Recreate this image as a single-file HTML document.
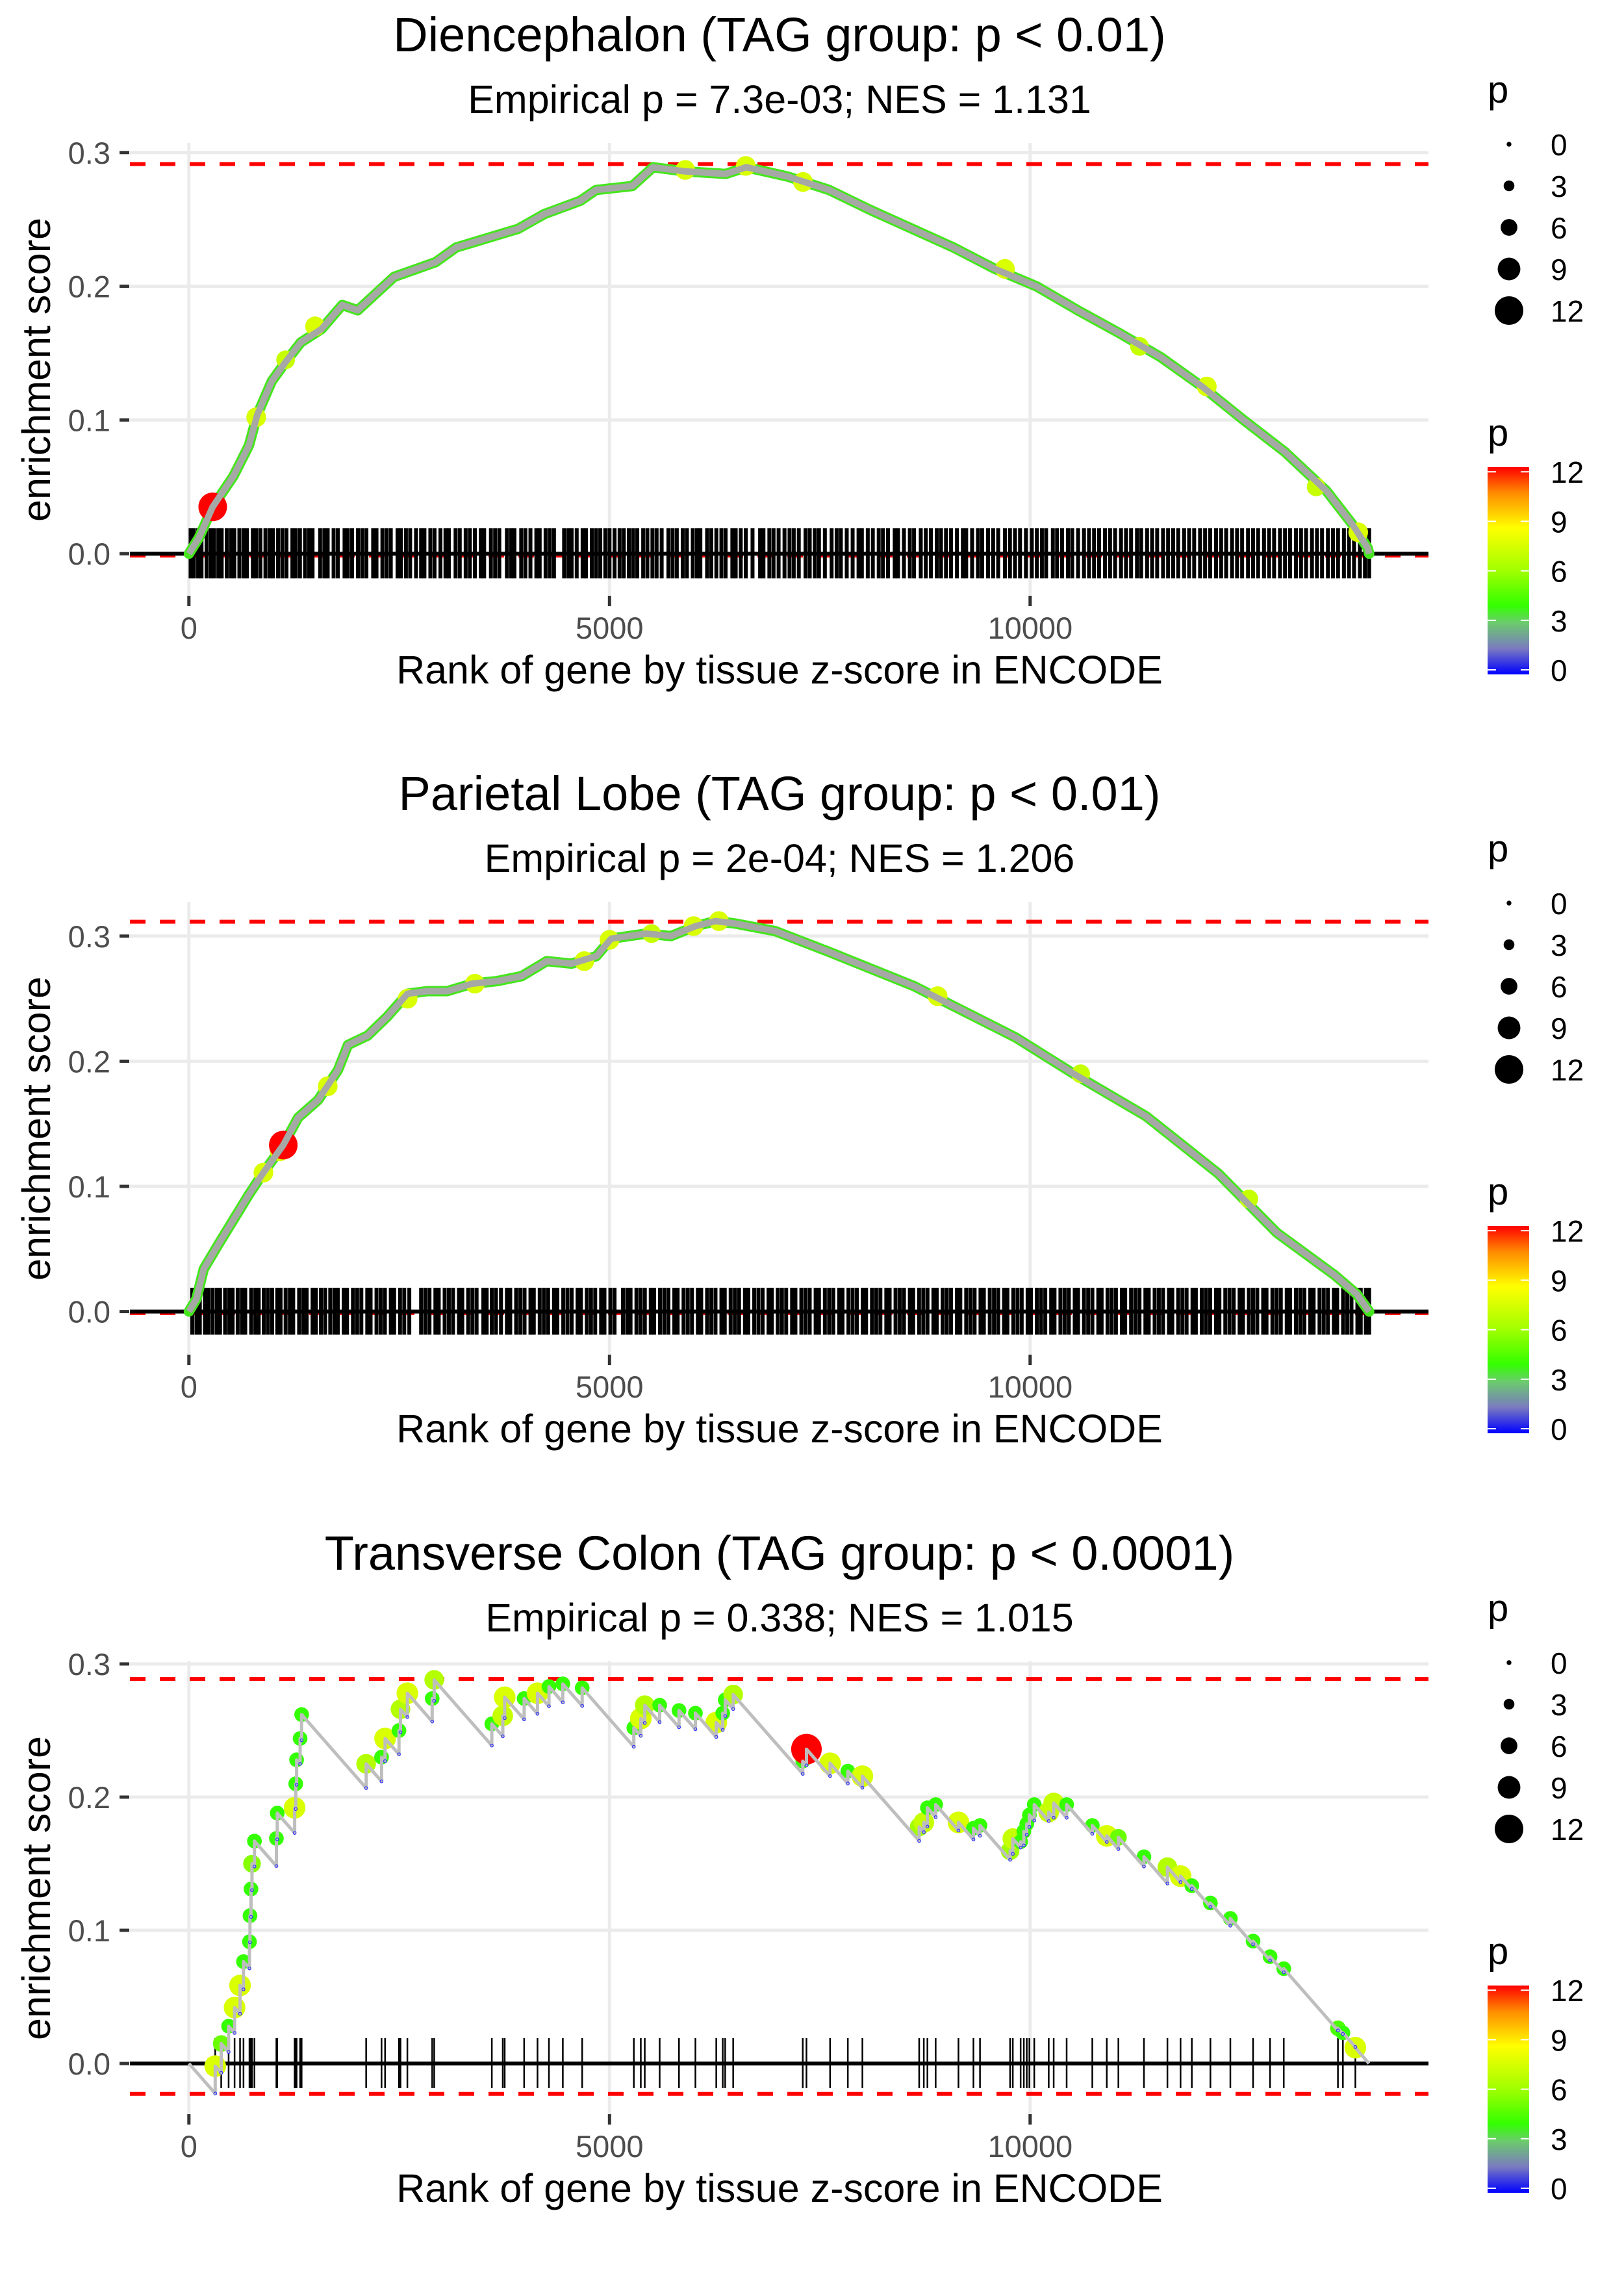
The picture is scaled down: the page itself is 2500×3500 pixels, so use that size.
<!DOCTYPE html>
<html><head><meta charset="utf-8"><style>
html,body{margin:0;padding:0;background:#fff;}
svg{display:block;font-family:"Liberation Sans",Arial,sans-serif;}
</style></head><body>
<svg id="fig" xmlns="http://www.w3.org/2000/svg" width="2500" height="3500" viewBox="0 0 2500 3500">
<defs>
<linearGradient id="pgrad" x1="0" y1="1" x2="0" y2="0">
<stop offset="0" stop-color="#0000ff"/><stop offset="0.125" stop-color="#7a7ac0"/><stop offset="0.25" stop-color="#6bcc6b"/><stop offset="0.333" stop-color="#33ff00"/><stop offset="0.5" stop-color="#a0ff00"/><stop offset="0.708" stop-color="#ffff00"/><stop offset="0.875" stop-color="#ff8c00"/><stop offset="1" stop-color="#ff0000"/>
</linearGradient>
</defs>
</svg>
<script>
// ---------- data ----------
const xTicks = [0, 5000, 10000];
const yTicks = [0, 0.1, 0.2, 0.3];
const yTickLabels = ["0.0", "0.1", "0.2", "0.3"];
const legendSizes = [0, 3, 6, 9, 12];
const titles = ["Diencephalon (TAG group: p < 0.01)", "Parietal Lobe (TAG group: p < 0.01)", "Transverse Colon (TAG group: p < 0.0001)"];
const subtitles = ["Empirical p = 7.3e-03; NES = 1.131", "Empirical p = 2e-04; NES = 1.206", "Empirical p = 0.338; NES = 1.015"];
const maxES = [0.2914, 0.3115, 0.2887];
const minES = [-0.0014, -0.0012, -0.0228];

const p1Ranks = [0,120,283,530,714,813,985,1145,1330,1576,1823,2007,2438,2931,3177,3547,3916,4224,4655,4840,5271,5517,5887,6379,6626,7118,7611,8103,8596,9089,9581,10074,10567,11059,11552,12044,12537,13030,13522,13830,14015,14030];
const p1ES = [0,0.012,0.035,0.058,0.081,0.104,0.129,0.143,0.158,0.168,0.186,0.182,0.207,0.218,0.229,0.236,0.243,0.254,0.264,0.272,0.275,0.289,0.286,0.284,0.289,0.282,0.272,0.257,0.243,0.229,0.213,0.200,0.182,0.165,0.147,0.125,0.100,0.076,0.047,0.022,0.004,0];
const p1DotRanks = [800,1150,1500,5900,6620,7300,9700,11300,12100,13400,13900,283];
const p1DotES = [0.102,0.145,0.170,0.287,0.290,0.278,0.213,0.155,0.125,0.050,0.016,0.035];
const p1DotP = [7.5,7,7.5,7.5,7.5,7.5,7.5,7,7.5,7,7.5,12];
const p1Rug = [20,60,110,150,210,260,300,350,390,450,500,540,600,650,690,760,800,850,910,960,1000,1060,1110,1160,1230,1270,1320,1380,1430,1470,1560,1610,1650,1720,1770,1850,1890,1940,2010,2060,2110,2190,2230,2300,2350,2400,2480,2520,2580,2630,2700,2760,2800,2870,2920,2990,3050,3090,3170,3220,3290,3340,3400,3470,3510,3590,3640,3690,3780,3830,3870,3950,4000,4060,4130,4170,4240,4290,4340,4460,4510,4550,4610,4680,4720,4790,4840,4890,4950,5000,5060,5120,5170,5230,5280,5330,5400,5450,5510,5560,5620,5700,5750,5800,5870,5920,5990,6040,6080,6160,6210,6270,6330,6380,6460,6500,6560,6620,6700,6790,6830,6900,6950,7010,7080,7140,7190,7250,7330,7380,7440,7490,7560,7640,7700,7750,7820,7890,7960,8000,8070,8130,8200,8250,8310,8390,8430,8500,8570,8620,8700,8760,8820,8890,8940,9000,9060,9130,9200,9240,9310,9380,9430,9500,9560,9620,9700,9760,9820,9880,9950,10020,10080,10140,10190,10270,10320,10380,10450,10500,10570,10640,10700,10760,10820,10890,10950,11010,11080,11140,11200,11270,11320,11390,11450,11510,11580,11640,11700,11760,11830,11890,11950,12020,12080,12140,12210,12270,12330,12400,12460,12520,12590,12650,12710,12780,12840,12900,12970,13030,13090,13160,13220,13280,13350,13410,13470,13540,13600,13660,13730,13790,13850,13920,13980,14030];

const p2Ranks = [0,89,177,354,532,709,886,1122,1299,1536,1772,1890,2126,2363,2599,2835,3071,3367,3662,3957,4253,4548,4843,5020,5434,5730,6025,6261,6497,6970,7586,8620,9828,10517,11379,12241,12931,13621,13880,14030];
const p2ES = [0,0.010,0.034,0.054,0.0735,0.093,0.111,0.133,0.155,0.169,0.193,0.213,0.2205,0.236,0.254,0.256,0.256,0.262,0.264,0.268,0.280,0.278,0.284,0.298,0.302,0.300,0.308,0.312,0.310,0.304,0.288,0.260,0.219,0.190,0.156,0.110,0.063,0.029,0.014,0];
const p2DotRanks = [886,1080,1650,2600,3400,4700,5000,5500,6000,6300,8900,10600,12600,1122];
const p2DotES = [0.111,0.128,0.180,0.250,0.262,0.280,0.297,0.302,0.308,0.312,0.252,0.190,0.090,0.133];
const p2DotP = [7.5,7.5,7.5,7.5,7.5,7.5,7.5,7,7.5,7.5,7.5,7,7,12];
const p2Rug = [40,90,130,190,230,280,330,370,430,480,520,580,630,670,740,790,830,890,940,990,1050,1090,1150,1200,1240,1310,1360,1400,1470,1510,1570,1620,1680,1730,1770,1840,1880,1950,2000,2050,2120,2160,2230,2280,2330,2400,2440,2510,2560,2620,2760,2810,2860,2930,2970,3040,3090,3140,3210,3250,3320,3370,3420,3500,3540,3600,3650,3710,3780,3820,3890,3940,3990,4060,4100,4170,4220,4270,4340,4380,4450,4500,4550,4620,4660,4730,4780,4830,4900,4940,5010,5060,5160,5210,5250,5320,5370,5420,5490,5530,5600,5650,5700,5770,5810,5880,5930,5980,6050,6090,6160,6210,6260,6330,6370,6440,6490,6540,6610,6650,6720,6770,6820,6890,6930,7000,7050,7100,7170,7210,7280,7330,7380,7450,7490,7560,7610,7660,7730,7770,7840,7890,7940,8010,8050,8120,8170,8220,8290,8330,8400,8450,8500,8570,8610,8680,8730,8780,8850,8890,8960,9010,9060,9130,9170,9240,9290,9340,9410,9450,9520,9570,9620,9690,9730,9800,9850,9900,9970,10010,10080,10130,10180,10250,10290,10360,10410,10460,10530,10570,10640,10690,10740,10810,10850,10920,10970,11020,11090,11130,11200,11250,11300,11370,11410,11480,11530,11580,11650,11690,11760,11810,11860,11930,11970,12040,12090,12140,12210,12250,12320,12370,12420,12490,12530,12600,12650,12700,12770,12810,12880,12930,12980,13050,13090,13160,13210,13260,13330,13370,13440,13490,13540,13610,13650,13720,13770,13820,13890,13930,13990,14030];

const p3HitRanks = [313,384,472,543,608,649,720,726,738,750,779,1040,1050,1257,1270,1280,1322,1340,2107,2290,2332,2497,2515,2597,2892,2916,3601,3731,3754,3985,4144,4280,4445,4675,5289,5372,5419,5596,5826,6021,6269,6346,6375,6470,7297,7341,7622,7833,8006,8681,8736,8779,8877,9148,9326,9404,9762,9794,9887,9925,9960,9991,10049,10221,10280,10434,10739,10911,11049,11353,11632,11788,11922,12143,12380,12650,12852,13015,13659,13718,13866];
const p3HitES = [-0.002,0.015,0.028,0.042,0.0586,0.0765,0.0914,0.111,0.131,0.150,0.167,0.169,0.188,0.192,0.210,0.228,0.244,0.262,0.225,0.230,0.244,0.250,0.266,0.278,0.274,0.288,0.255,0.261,0.275,0.274,0.278,0.283,0.285,0.282,0.252,0.259,0.269,0.269,0.265,0.263,0.256,0.263,0.273,0.277,0.227,0.236,0.2254,0.2195,0.2157,0.1776,0.181,0.192,0.1944,0.181,0.1766,0.1787,0.1597,0.1688,0.1665,0.1743,0.1799,0.1866,0.1944,0.1888,0.1956,0.1944,0.1787,0.1709,0.1698,0.1552,0.1474,0.1407,0.1335,0.1205,0.1089,0.0919,0.0802,0.0712,0.0264,0.023,0.0119];
const p3HitP = [7.5,5,4,7.5,7.5,4,4,4,4,5.5,4,4,4,7.5,4,4,4,4,6.5,4,7.5,4,6.5,7.5,4,6.5,4,7,7.5,4,7.5,4,4,4,4,7.5,6.5,4,4,4,7.5,4,4,6.5,4,12,7.5,4,7.5,6,7,4,4,7.5,4,4,6,7,4,4,4,4,4,7,7,4,4,7.5,5,4,6.5,7.5,4,4,4,4,4,4,4.5,4,7.5];
const p3EndRank = 14028;
const missPenalty = 0.000072;

// ---------- layout ----------
const NS = "http://www.w3.org/2000/svg";
const svg = document.getElementById("fig");
const X0 = 290.8, XS = 0.1295;
const PL = 200, PR = 2199;
const offsets = [0, 1168, 2337];
const yZero = [852.2, 2018.6, 3176];
const yScale = [2058, 1926, 2050];
function xPos(r){ return X0 + r*XS; }
function mk(tag, attrs, parent){ const e=document.createElementNS(NS,tag); for(const k in attrs) e.setAttribute(k,attrs[k]); (parent||svg).appendChild(e); return e; }
const stops=[[0,[0,0,255]],[1.5,[122,122,192]],[3,[107,204,107]],[4,[51,255,0]],[6,[160,255,0]],[8.5,[255,255,0]],[10.5,[255,140,0]],[12,[255,0,0]]];
function pColor(p){ for(let i=1;i<stops.length;i++){ if(p<=stops[i][0]){ const a=stops[i-1],b=stops[i]; const t=(p-a[0])/(b[0]-a[0]); const c=a[1].map((v,j)=>Math.round(v+(b[1][j]-v)*t)); return "rgb("+c.join(",")+")"; } } return "rgb(255,0,0)"; }
function pRadius(p){ return 3.7 + 1.53*p; }

function drawPanel(k){
  const o = offsets[k];
  const yPos = v => yZero[k] - v*yScale[k];
  const top = 220+o, bot = 917+o;
  const g = mk("g",{});
  
  
  const t = mk("text",{x:1200,y:79+o,"font-size":74,"text-anchor":"middle",fill:"#000"},g); t.textContent=titles[k];
  
  
  const st = mk("text",{x:1200,y:174+o,"font-size":61,"text-anchor":"middle",fill:"#000"},g); st.textContent=subtitles[k];
  
  
  yTicks.forEach((v,i)=>{
    const gl=mk("line",{x1:PL,x2:PR,y1:yPos(v),y2:yPos(v),stroke:"#ebebeb","stroke-width":5},g);
    
    
    const tk=mk("line",{x1:184,x2:199,y1:yPos(v),y2:yPos(v),stroke:"#333","stroke-width":5},g);
    
    
    const tl=mk("text",{x:170,y:yPos(v)+17,"font-size":47,"text-anchor":"end",fill:"#4d4d4d"},g); tl.textContent=yTickLabels[i];
    
    
  });
  xTicks.forEach(v=>{
    const gl=mk("line",{x1:xPos(v),x2:xPos(v),y1:top,y2:bot,stroke:"#ebebeb","stroke-width":5},g);
    
    
    const tk=mk("line",{x1:xPos(v),x2:xPos(v),y1:bot,y2:bot+16,stroke:"#333","stroke-width":5},g);
    
    
    const tl=mk("text",{x:xPos(v),y:983+o,"font-size":47,"text-anchor":"middle",fill:"#4d4d4d"},g); tl.textContent=String(v);
    
    
  });
  const xt=mk("text",{x:1200,y:1052+o,"font-size":61,"text-anchor":"middle",fill:"#000"},g); xt.textContent="Rank of gene by tissue z-score in ENCODE";
  
  
  const yt=mk("text",{x:0,y:0,"font-size":61,"text-anchor":"middle",fill:"#000",transform:"translate(77,"+(569+o)+") rotate(-90)"},g); yt.textContent="enrichment score";
  
  
  [maxES[k],minES[k]].forEach(v=>{
    const d=mk("line",{x1:PL,x2:PR,y1:yPos(v),y2:yPos(v),stroke:"#ff0000","stroke-width":6,"stroke-dasharray":"24 22"},g);
    
    
  });
  const rug = k===0?p1Rug:(k===1?p2Rug:p3HitRanks);
  const rugTop = yPos(0.019), rugBot = yPos(-0.0185);
  rug.forEach(r=>{
    const l=mk("line",{x1:xPos(r),x2:xPos(r),y1:rugTop,y2:rugBot,stroke:"#000","stroke-width":k===2?2.5:6},g);
    
    
  });
  const zl=mk("line",{x1:PL,x2:PR,y1:yPos(0),y2:yPos(0),stroke:"#000","stroke-width":6},g);
  
  
  if(k<2){
    const rk = k===0?p1Ranks:p2Ranks, es = k===0?p1ES:p2ES;
    const pts = rk.map((r,i)=>xPos(r).toFixed(1)+","+yPos(es[i]).toFixed(1)).join(" ");
    const halo=mk("polyline",{points:pts,fill:"none",stroke:"#44e61c","stroke-width":16,"stroke-linejoin":"round","stroke-linecap":"round"},g);
    
    
    const dr = k===0?p1DotRanks:p2DotRanks, de = k===0?p1DotES:p2DotES, dp = k===0?p1DotP:p2DotP;
    dr.forEach((r,i)=>{
      const c=mk("circle",{cx:xPos(r),cy:yPos(de[i]),r:pRadius(dp[i]),fill:pColor(dp[i])},g);
      
      
    });
    const line=mk("polyline",{points:pts,fill:"none",stroke:"#a6a8a6","stroke-width":10,"stroke-linejoin":"round"},g);
    
    
  } else {
    const pts=[[0,0]]; const lows=[];
    let prevR=0, prevE=0;
    p3HitRanks.forEach((r,i)=>{
      const before = prevE - missPenalty*(r-prevR);
      pts.push([r,before]); lows.push([r,before]); pts.push([r,p3HitES[i]]);
      prevR=r; prevE=p3HitES[i];
    });
    pts.push([p3EndRank,0]);
    p3HitRanks.forEach((r,i)=>{
      const c=mk("circle",{cx:xPos(r),cy:yPos(p3HitES[i]),r:pRadius(p3HitP[i])+1.5,fill:pColor(p3HitP[i])},g);
      
      
    });
    const line=mk("polyline",{points:pts.map(p=>xPos(p[0]).toFixed(1)+","+yPos(p[1]).toFixed(1)).join(" "),fill:"none",stroke:"#bebebe","stroke-width":5,"stroke-linejoin":"round"},g);
    
    
    lows.forEach(p=>{
      const c=mk("circle",{cx:xPos(p[0]),cy:yPos(p[1]),r:2.2,fill:"none",stroke:"#3030ff","stroke-width":1.2},g);
      
      
    });
  }
  const lt=mk("text",{x:2290,y:158+o,"font-size":58,fill:"#000"},g); lt.textContent="p";
  
  
  legendSizes.forEach((s,i)=>{
    const cy=222+64*i+o;
    const c=mk("circle",{cx:2323,cy:cy,r:pRadius(s),fill:"#000"},g);
    
    
    const tx=mk("text",{x:2387,y:cy+17,"font-size":46,fill:"#000"},g); tx.textContent=String(s);
    
    
  });
  const ct=mk("text",{x:2290,y:686+o,"font-size":58,fill:"#000"},g); ct.textContent="p";
  
  
  const bar=mk("rect",{x:2290,y:719+o,width:64,height:319,fill:"url(#pgrad)"},g);
  
  
  legendSizes.forEach(s=>{
    const yy=1031+o - s*25.4;
    mk("line",{x1:2290,x2:2303,y1:yy,y2:yy,stroke:"#fff","stroke-width":2},g);
    mk("line",{x1:2341,x2:2354,y1:yy,y2:yy,stroke:"#fff","stroke-width":2},g);
    const tx=mk("text",{x:2387,y:yy+17,"font-size":46,fill:"#000"},g); tx.textContent=String(s);
    
    
  });
}
[0,1,2].forEach(drawPanel);
</script>
</body></html>
